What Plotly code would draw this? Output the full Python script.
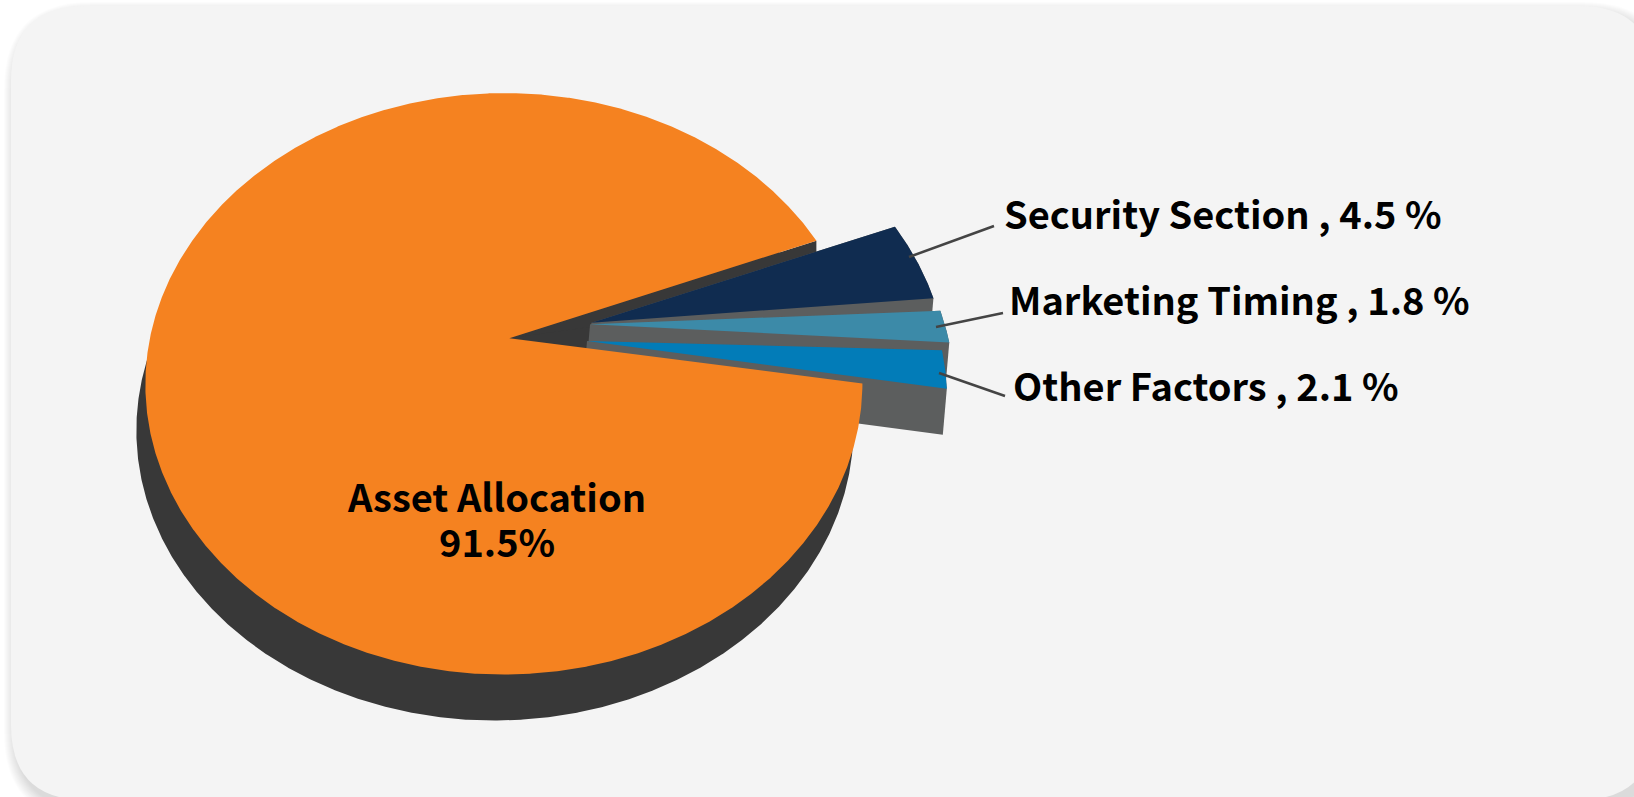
import numpy as np
import plotly.graph_objects as go

# chart values
categories = ["Asset Allocation", "Security Section", "Marketing Timing", "Other Factors"]
shares = [91.5, 4.5, 1.8, 2.1]

colors = ["#f58220", "#102c50", "#3c8aa8", "#027cb8"]
wall_colors = ["#383838", "#5c5e5e", "#5c5e5e", "#5c5e5e"]
explode = [0.015, 0.235, 0.24, 0.215]
tip_lift = [(0.015, 0), (0.005, 0), (-0.01, 0.04), (0.005, 0.008)]
wall_shift = [(-9, 46), (-4, 46), (-4, 46), (-4, 46)]

# perspective of the tilted disc
X0, Y0 = 509.3, 337.7
RX, RY, PERSP = 354, 283.4, 0.157
START_ANGLE = 21.3

W, H = 1634, 797
PANEL = (11, 6, 1654, 800)
FONT = "Noto Sans CJK SC"


def project(u, v):
  w = 1 + PERSP * v
  return X0 + RX * u / w, Y0 - RY * v / w


def wedge(a0, a1, pull, lift):
  # arc from a0 to a1 (degrees) closed on the tip, pulled out along the middle angle
  mid = np.radians((a0 + a1) / 2)
  du, dv = pull * np.cos(mid), pull * np.sin(mid)
  t = np.radians(np.linspace(a0, a1, max(int(abs(a1 - a0) * 4), 24)))
  x, y = project(np.cos(t) + du, np.sin(t) + dv)
  tx, ty = project(du + lift[0], dv + lift[1])
  return np.r_[tx, x, tx], np.r_[ty, y, ty]


def rounded(x0, y0, x1, y1, r):
  return (f"M{x0+r},{y0} L{x1-r},{y0} Q{x1},{y0} {x1},{y0+r} L{x1},{y1-r} Q{x1},{y1} {x1-r},{y1} "
          f"L{x0+r},{y1} Q{x0},{y1} {x0},{y1-r} L{x0},{y0+r} Q{x0},{y0} {x0+r},{y0} Z")


def poly(x, y, color):
  return go.Scatter(x=x, y=y, mode="lines", fill="toself", fillcolor=color,
                    line=dict(width=0, color=color), hoverinfo="skip", showlegend=False)


# angles: big slice runs counter clockwise, the small ones clockwise in the gap
sweeps = [s / sum(shares) * 360 for s in shares]
angles = [(START_ANGLE, START_ANGLE + sweeps[0])]
cur = START_ANGLE
for sw in sweeps[1:]:
  angles.append((cur, cur - sw))
  cur -= sw

shapes_xy = [wedge(a[0], a[1], explode[i], tip_lift[i]) for i, a in enumerate(angles)]

fig = go.Figure()

# dark underside of the big slice
x, y = shapes_xy[0]
fig.add_trace(poly(x + wall_shift[0][0], y + wall_shift[0][1], wall_colors[0]))

# dark cut face along the upper edge of the gap, runs under the first pulled slice
nx, ny = shapes_xy[1]
fig.add_trace(poly([x[0], x[1], x[1], nx[0], x[0]], [y[0], y[1], y[1] + 12, ny[0] + 4, y[0]], wall_colors[0]))

# side walls of the pulled slices
for i in [1, 2, 3]:
  x, y = shapes_xy[i]
  sx, sy = wall_shift[i]
  fig.add_trace(poly(np.r_[x[:-1], x[-2] + sx, x[0] + sx, x[0]],
                     np.r_[y[:-1], y[-2] + sy, y[0] + sy, y[0]], wall_colors[i]))

for i in range(len(categories)):
  x, y = shapes_xy[i]
  fig.add_trace(poly(x, y, colors[i]))

# panel with soft shadow
shapes = []
for k in range(12, 0, -1):
  shapes.append(dict(type="path", path=rounded(PANEL[0] + 5 - k, PANEL[1] + 8 - k, PANEL[2] + 5 + k, PANEL[3] + 8 + k, 75 + k),
                     fillcolor="rgba(0,0,0,0.012)", line=dict(width=0), layer="below"))
shapes.append(dict(type="path", path=rounded(*PANEL, 75), fillcolor="#f4f4f4", line=dict(width=0), layer="below"))

# leader lines
leaders = [((909, 257), (994, 226)), ((936, 327), (1003, 313)), ((939, 373), (1005, 396))]
for a, b in leaders:
  shapes.append(dict(type="line", x0=a[0], y0=a[1], x1=b[0], y1=b[1], line=dict(color="#444444", width=2.5), layer="above"))

# labels
annotations = [
  dict(x=496, y=495.5, text=categories[0], showarrow=False, font=dict(family=FONT, size=38, color="#000000", weight=700)),
  dict(x=497, y=540, text=f"{shares[0]}%", showarrow=False, font=dict(family=FONT, size=38, color="#000000", weight=700)),
]
label_pos = [(1002, 212), (1007, 298), (1011, 384)]
for name, val, pos in zip(categories[1:], shares[1:], label_pos):
  annotations.append(dict(x=pos[0], y=pos[1], xanchor="left", text=f"{name} , {val} %", showarrow=False,
                          font=dict(family=FONT, size=38, color="#000000", weight=700)))

fig.update_layout(
  width=W, height=H, margin=dict(l=0, r=0, t=0, b=0),
  paper_bgcolor="#ffffff", plot_bgcolor="rgba(0,0,0,0)",
  xaxis=dict(range=[0, W], visible=False, fixedrange=True),
  yaxis=dict(range=[H, 0], visible=False, fixedrange=True),
  shapes=shapes, annotations=annotations, showlegend=False,
)

fig.write_html("out.html", config={"displayModeBar": False},
               post_script="document.body.style.margin='0';document.body.style.overflow='hidden';")
